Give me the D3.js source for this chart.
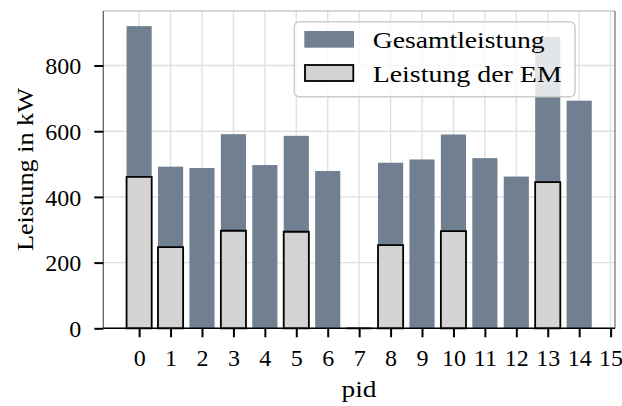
<!DOCTYPE html>
<html><head><meta charset="utf-8">
<script src="https://cdn.jsdelivr.net/npm/d3@7"></script>
<style>body{margin:0;background:#fff}svg{display:block}text{font-family:"Liberation Serif","Times New Roman",serif;fill:#000}</style>
</head><body>
<script>
const pids = [0,1,2,3,4,5,6,7,8,9,10,11,12,13,14];
const gesamt = [920,492,488,591,497,586,479,0,504,514,590,518,462,887,693];
const em = [461,247,null,297,null,294,null,0,253,null,296,null,null,445,null];
const xTicks = [0,1,2,3,4,5,6,7,8,9,10,11,12,13,14,15];
const yTicks = [0,200,400,600,800];
const seriesNames = ["Gesamtleistung","Leistung der EM"];

const W=622,H=406, L=103.3, R=615, T=11, B=328.3;
const svg=d3.select("body").append("svg").attr("width",W).attr("height",H);
const x=d3.scaleLinear().domain([-1.14,15.14]).range([L,R]);
const y=d3.scaleLinear().domain([0,966]).range([B,T]);
const bw = x(0.8)-x(0);

// grid
const g=svg.append("g");
g.selectAll(".vg").data(xTicks).join("line").attr("x1",d=>x(d)).attr("x2",d=>x(d)).attr("y1",T).attr("y2",B).attr("stroke","#e0e0e0").attr("stroke-width",1.4);
g.selectAll(".hg").data(yTicks).join("line").attr("x1",L).attr("x2",R).attr("y1",d=>y(d)).attr("y2",d=>y(d)).attr("stroke","#e0e0e0").attr("stroke-width",1.4);

// bars
svg.append("g").selectAll("rect").data(pids).join("rect")
  .attr("x",d=>x(d)-bw/2).attr("width",bw)
  .attr("y",(d,i)=>y(gesamt[i])).attr("height",(d,i)=>y(0)-y(gesamt[i]))
  .attr("fill","#708090");
const emIdx = pids.filter((d,i)=>em[i]!==null);
svg.append("g").selectAll("path").data(emIdx).join("path")
  .attr("d",d=>{const x0=x(d)-bw/2,x1=x(d)+bw/2,y0=y(0),y1=y(em[d]);return `M${x0},${y0}L${x0},${y1}L${x1},${y1}L${x1},${y0}Z`;})
  .attr("fill","#d3d3d3").attr("stroke","#000").attr("stroke-width",1.8);

// spines
svg.append("line").attr("x1",L).attr("x2",R).attr("y1",T).attr("y2",T).attr("stroke","#b0b0b0").attr("stroke-width",1.2);
svg.append("line").attr("x1",R).attr("x2",R).attr("y1",T).attr("y2",B).attr("stroke","#6e6e6e").attr("stroke-width",1.2);
svg.append("line").attr("x1",L).attr("x2",L).attr("y1",T).attr("y2",B).attr("stroke","#555").attr("stroke-width",1.2);
svg.append("line").attr("x1",L).attr("x2",R).attr("y1",B).attr("y2",B).attr("stroke","#000").attr("stroke-width",1.5);

// axes
const xAxis=d3.axisBottom(x).tickValues(xTicks).tickFormat(d3.format("d")).tickSize(9).tickPadding(6);
const xa=svg.append("g").attr("transform",`translate(0,${B})`).call(xAxis);
xa.select(".domain").remove();
xa.selectAll("line").attr("stroke","#000").attr("stroke-width",2);
xa.selectAll("text").attr("font-size",24).attr("dy",null).attr("y",38);
const yAxis=d3.axisLeft(y).tickValues(yTicks).tickFormat(d3.format("d")).tickSize(9).tickPadding(13);
const ya=svg.append("g").attr("transform",`translate(${L},0)`).call(yAxis);
ya.select(".domain").remove();
ya.selectAll("line").attr("stroke","#000").attr("stroke-width",2);
ya.selectAll("text").attr("font-size",24).attr("dy","0.34em");

// labels
svg.append("text").attr("transform",`translate(33,169.6) rotate(-90)`).attr("text-anchor","middle").attr("font-size",24).attr("textLength",163).attr("lengthAdjust","spacingAndGlyphs").text("Leistung in kW");
svg.append("text").attr("x",359).attr("y",397).attr("text-anchor","middle").attr("font-size",24).attr("textLength",35).attr("lengthAdjust","spacingAndGlyphs").text("pid");

// legend
const lg=svg.append("g");
lg.append("rect").attr("x",294.3).attr("y",21.7).attr("width",280.7).attr("height",75).attr("rx",5).attr("fill","#fff").attr("fill-opacity",0.8).attr("stroke","#cccccc").attr("stroke-width",1.5);
lg.append("rect").attr("x",304.3).attr("y",31).attr("width",49.7).attr("height",16.7).attr("fill","#708090");
lg.append("rect").attr("x",305).attr("y",65).attr("width",48.3).attr("height",16).attr("fill","#d3d3d3").attr("stroke","#000").attr("stroke-width",1.8);
lg.append("text").attr("x",372.7).attr("y",47.5).attr("font-size",24).attr("textLength",172).attr("lengthAdjust","spacingAndGlyphs").text(seriesNames[0]);
lg.append("text").attr("x",372.7).attr("y",81.5).attr("font-size",24).attr("textLength",189).attr("lengthAdjust","spacingAndGlyphs").text(seriesNames[1]);
</script>
</body></html>
